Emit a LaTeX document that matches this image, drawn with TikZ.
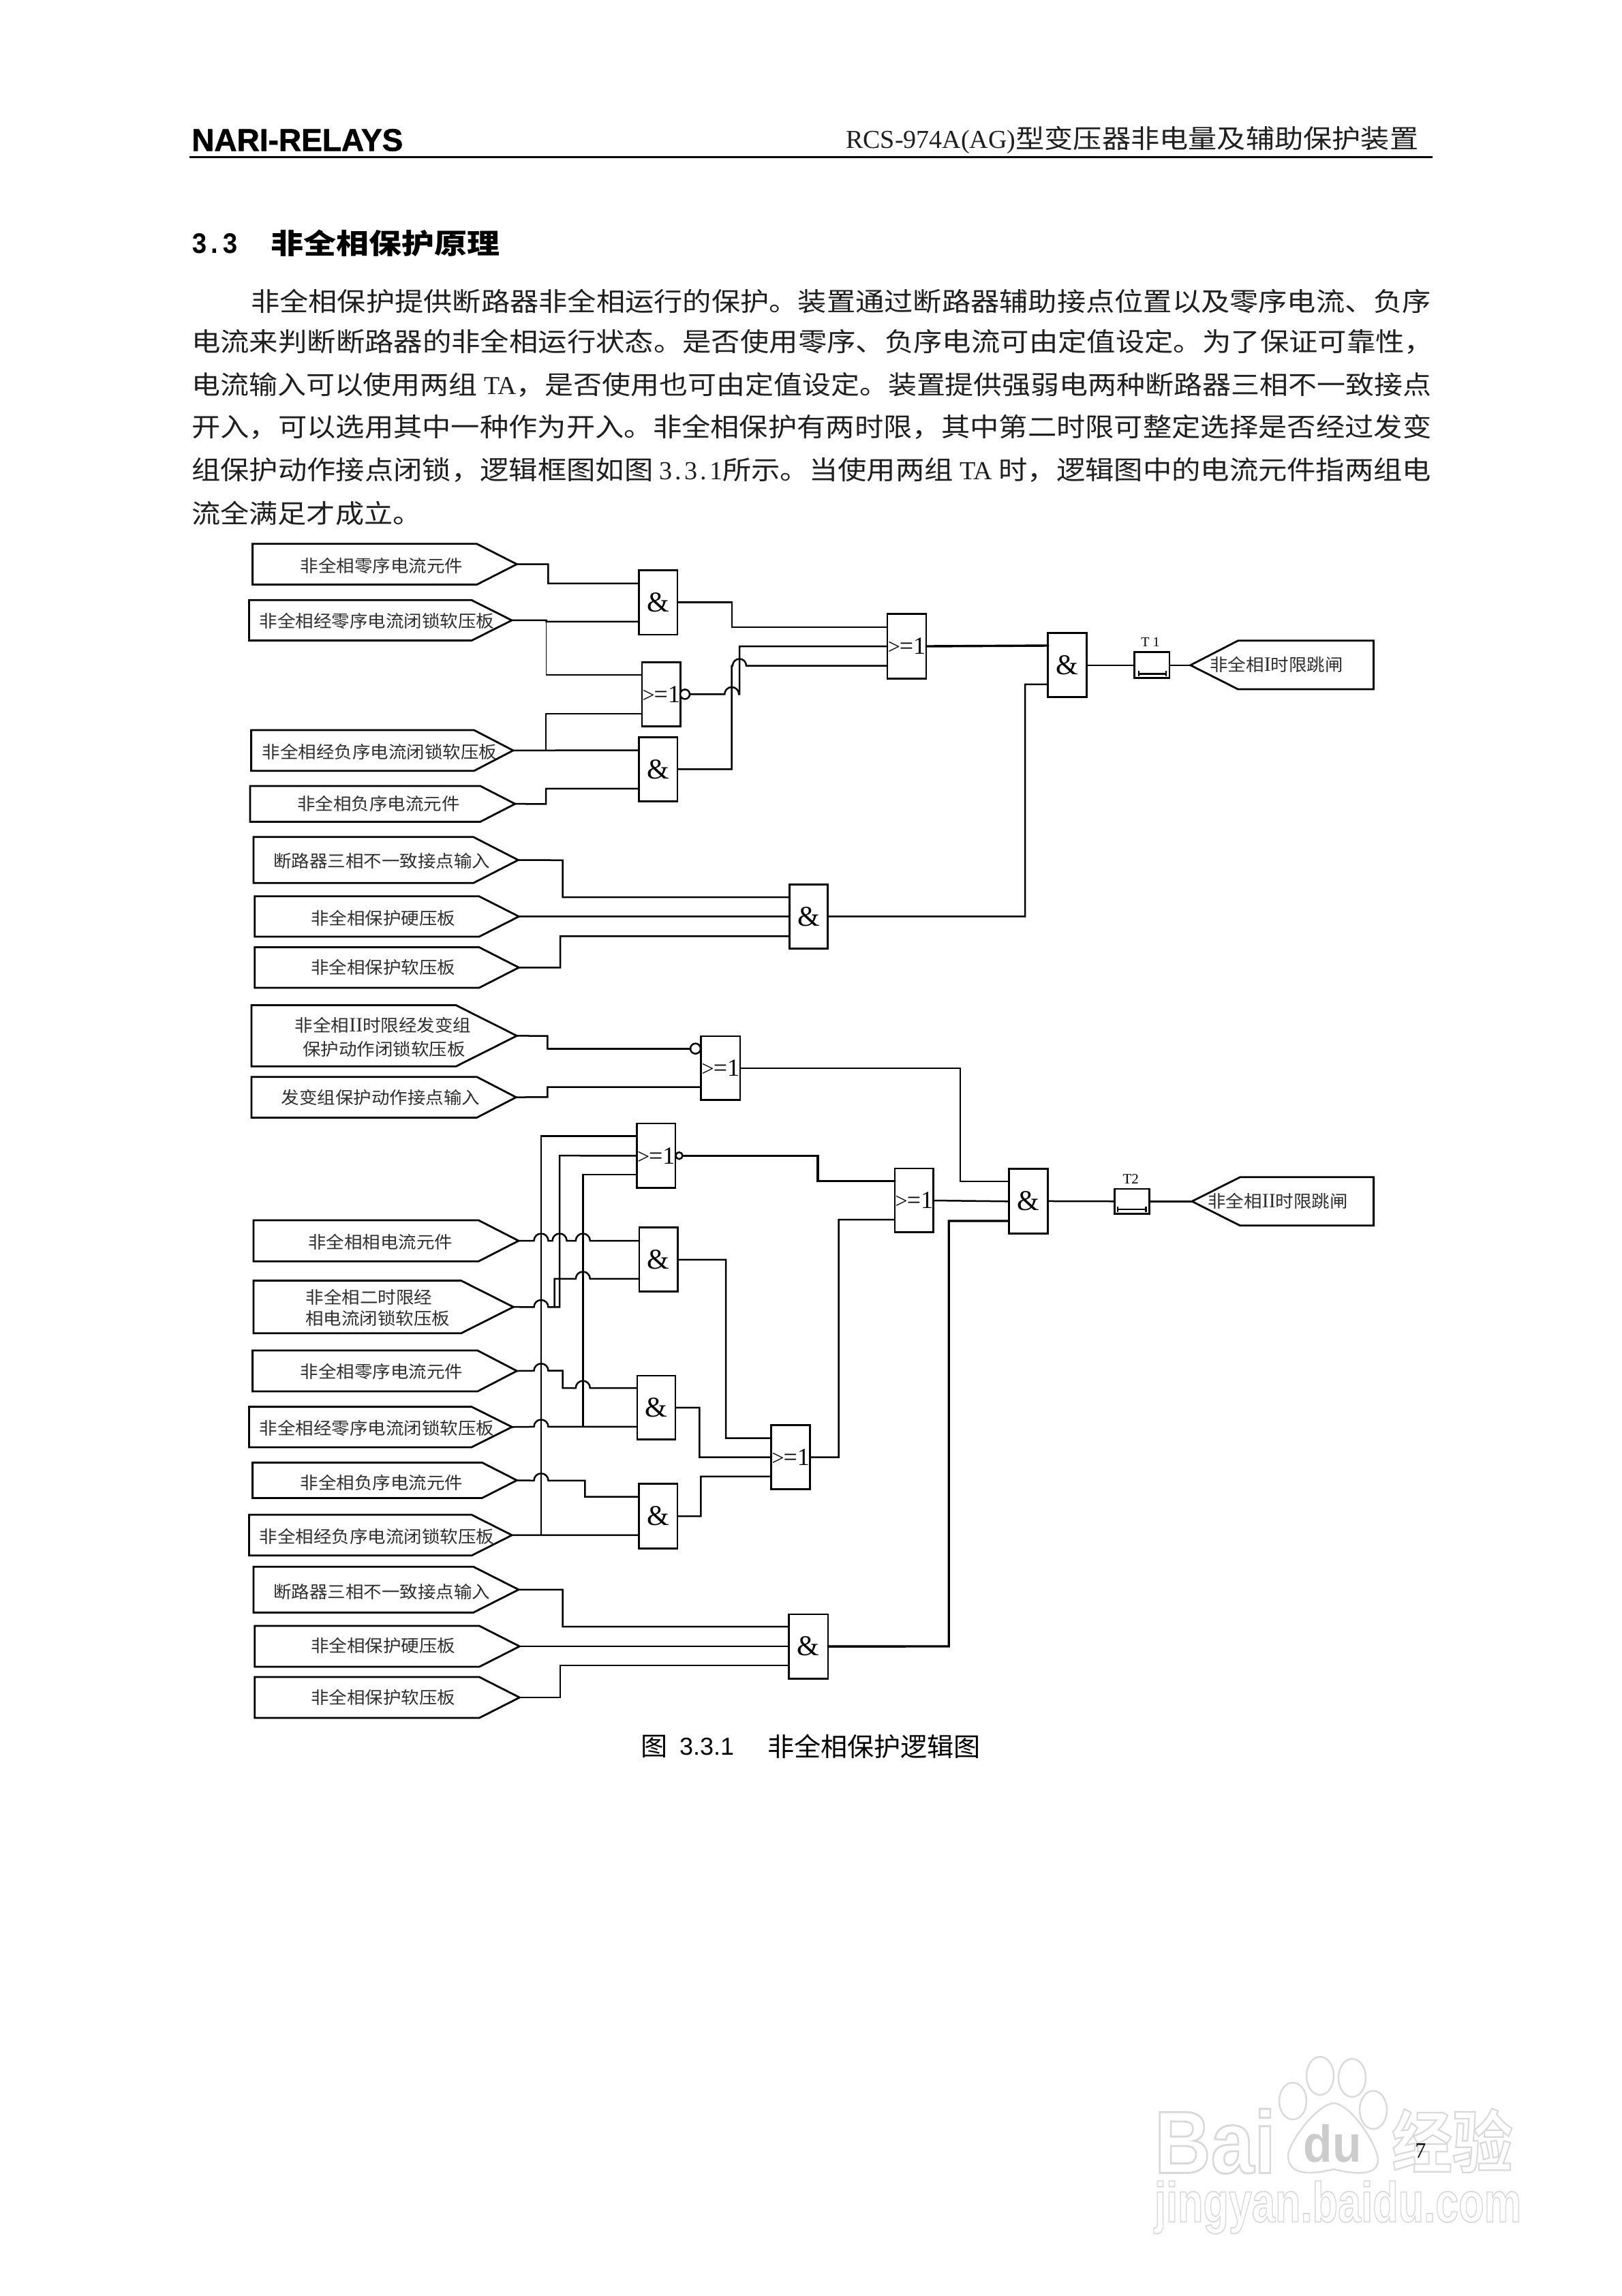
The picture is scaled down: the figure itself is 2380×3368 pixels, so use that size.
\documentclass[tikz,border=0pt]{standalone}
\usepackage{fontspec}
\setmainfont{Liberation Serif}
\setmonofont{Liberation Mono}
\setsansfont{Liberation Sans}
\newfontfamily\cjklab[FakeStretch=1.06]{Noto Sans CJK SC}
\newfontfamily\cjkbody[FakeStretch=1.11]{Noto Sans CJK SC}
\newfontfamily\cjkhead[FakeStretch=1.17]{Noto Sans CJK SC}
\newfontfamily\cjkcap[FakeStretch=1.03]{Noto Sans CJK SC}
\newfontfamily\narif[FakeBold=1.2]{Liberation Sans Bold}
\newfontfamily\wmfont[FakeBold=2.2]{Liberation Sans Bold}
\newfontfamily\wmcjk[FakeBold=2.2]{Noto Sans CJK SC Bold}
\newcommand\labf{\color{black!82}\cjklab\fontsize{25}{25}\selectfont}
\newcommand\bodyf{\color{black!88}\cjkbody\fontsize{38}{38}\selectfont}
\newcommand\ltn[1]{{\rmfamily #1}}
\newcommand\ltl[1]{{\rmfamily\fontsize{30}{30}\selectfont #1}}
\newcommand\orsign{{\fontsize{32}{32}\selectfont >}\kern-1pt{\fontsize{36}{36}\selectfont =1}}
\tikzset{
  w/.style={line width=2.5pt,line cap=round,line join=miter,black},
  wt/.style={line width=3.4pt,line cap=round,black},
  thinw/.style={line width=1.5pt,black},
  boxl/.style={line width=2.8pt,line join=miter,black},
  gatebox/.style={draw,line width=2.8pt,rectangle,inner sep=0pt,outer sep=0pt,fill=white,
    font=\rmfamily\fontsize{42}{42}\selectfont},
  orbox/.style={gatebox,font=\rmfamily\fontsize{36}{36}\selectfont},
  timer/.style={draw,line width=2.8pt,rectangle,inner sep=0pt,outer sep=0pt,fill=white},
  bub/.style={draw,line width=2.5pt,circle,inner sep=0pt,outer sep=0pt,fill=white},
  lab/.style={inner sep=0pt,font=\labf},
  txt/.style={anchor=west,inner sep=0pt},
  wmtxt/.style={inner sep=0pt},
}
\newcommand\inbox[9]{%
  \draw[boxl] (#2,#5) -- (#3,#5) -- (#4,{(#5+#6)/2}) -- (#3,#6) -- (#2,#6) -- cycle;
  \coordinate (#1) at (#4,{(#5+#6)/2});
  \node[lab] (#1t) at (#7,#8) {#9};}
\newcommand\lgate[7][gatebox]{%
  \node[#1,minimum width=#4-#3,minimum height=#6-#5] (#2) at ({(#3+#4)/2},{(#5+#6)/2}) {#7};}
\newcommand\hp[2]{-- ({#1-10.5},#2) arc[start angle=180,end angle=360,radius=10.5]}
% outlined watermark letters: white fill, light grey stroke
\newcommand\wmpaint[1]{\color{white}\special{pdf:code 0.85 G}#1\special{pdf:code 0 G}}
\begin{document}
\begin{tikzpicture}[x=1pt,y=-1pt]
\useasboundingbox (0,0) rectangle (2380,3368);
\fill[white] (0,0) rectangle (2380,3368);

% watermark
\node[wmtxt] (wmB) at (1783,3141) {\resizebox{178pt}{94pt}{\wmpaint{\wmfont Bai}}};
\node[wmtxt] (wmJ) at (1963,3238) {\resizebox{538pt}{60pt}{\wmpaint{\wmfont jingyan.baidu.com}}};
\node[wmtxt] (wmC) at (2131,3140) {\resizebox{178pt}{86pt}{\wmpaint{\wmcjk 经验}}};
\begin{scope}[draw=black!14,line width=2.5pt,fill=white]
  \filldraw (1897,3082) ellipse[x radius=20,y radius=27];
  \filldraw (1937,3045) ellipse[x radius=20,y radius=28];
  \filldraw (1984,3048) ellipse[x radius=20,y radius=28];
  \filldraw (2015,3095) ellipse[x radius=20,y radius=28];
  \filldraw (1957,3085) .. controls (1985,3088) and (2022,3150) .. (2022,3168)
     .. controls (2022,3192) and (1990,3190) .. (1957,3182)
     .. controls (1925,3190) and (1890,3192) .. (1890,3162)
     .. controls (1890,3145) and (1930,3088) .. (1957,3085) -- cycle;
\end{scope}
\node[inner sep=0pt,text=black!20] (wmD) at (1955,3144) {\resizebox{85pt}{55pt}{\sffamily\bfseries du}};

% header
\node[txt] (hl) at (281,205.5) {\narif\fontsize{46}{46}\selectfont NARI-RELAYS};
\node[txt] (hr) at (1241,205.7) {\resizebox{840pt}{!}{\color{black!88}\cjkbody\fontsize{38}{38}\selectfont\ltn{RCS-974A(AG)}型变压器非电量及辅助保护装置}};
\draw[line width=3pt] (278,230.2) -- (2102,230.2);

% heading
\node[txt] (h3) at (281,357) {\resizebox{68pt}{29pt}{\ttfamily\bfseries 3.3}};
\node[txt] (h4) at (397,357) {\cjkhead\bfseries\fontsize{41}{41}\selectfont 非全相保护原理};

% body
\node[txt] (b1l) at (368,441.6) {\resizebox{1732pt}{!}{\bodyf 非全相保护提供断路器非全相运行的保护。装置通过断路器辅助接点位置以及零序电流、负序}};
\node[txt] (b2l) at (281,501.6) {\resizebox{1822pt}{!}{\bodyf 电流来判断断路器的非全相运行状态。是否使用零序、负序电流可由定值设定。为了保证可靠性，}};
\node[txt] (b3l) at (281,565) {\resizebox{1819pt}{!}{\bodyf 电流输入可以使用两组 \ltn{TA}，是否使用也可由定值设定。装置提供强弱电两种断路器三相不一致接点}};
\node[txt] (b4l) at (281,626) {\resizebox{1819pt}{!}{\bodyf 开入，可以选用其中一种作为开入。非全相保护有两时限，其中第二时限可整定选择是否经过发变}};
\node[txt] (b5l) at (281,689.4) {\resizebox{1819pt}{!}{\bodyf 组保护动作接点闭锁，逻辑框图如图 {\rmfamily 3\kern4pt.\kern4pt3\kern4pt.\kern4pt1}所示。当使用两组 \ltn{TA} 时，逻辑图中的电流元件指两组电}};
\node[txt] (b6l) at (281,753) {\bodyf 流全满足才成立。};

% inputs upper
\inbox{ia}{370.6}{699.7}{758.4}{797.8}{857.5}{560}{830}{非全相零序电流元件}
\inbox{ib}{365.5}{692}{751}{880.3}{939.6}{553}{910.6}{非全相经零序电流闭锁软压板}
\inbox{ic}{368.6}{695.6}{753}{1071}{1130.7}{556.8}{1102.5}{非全相经负序电流闭锁软压板}
\inbox{id}{367}{704.8}{755.8}{1153}{1205.4}{555.3}{1179.3}{非全相负序电流元件}
\inbox{ie}{372}{694.6}{760.4}{1227.8}{1295.3}{560}{1263}{断路器三相不一致接点输入}
\inbox{if}{373.7}{703}{761.4}{1314.8}{1374}{562.4}{1346.7}{非全相保护硬压板}
\inbox{ig}{373.7}{703}{761.4}{1389.5}{1449}{562.4}{1418.5}{非全相保护软压板}
% inputs lower
\inbox{ih}{369}{669}{758.4}{1474.5}{1564.3}{562}{1503.4}{非全相\ltl{II}时限经发变组}
\node[lab] (iht) at (563.5,1539) {保护动作闭锁软压板};
\inbox{ii}{369}{699.7}{757.3}{1579.7}{1639.4}{558.4}{1610}{发变组保护动作接点输入}
\inbox{ij}{372}{702.2}{761}{1790}{1850.2}{558.4}{1821.7}{非全相相电流元件}
\inbox{ik}{372}{676.7}{753.3}{1878.6}{1955.7}{541.5}{1902.7}{非全相二时限经}
\node[lab] (ikt) at (554.3,1934.4) {相电流闭锁软压板};
\inbox{il}{370.6}{700.7}{758.4}{1981}{2041}{560}{2011.5}{非全相零序电流元件}
\inbox{im}{365.5}{692}{751.2}{2063.6}{2122.9}{553}{2094.6}{非全相经零序电流闭锁软压板}
\inbox{in}{370.6}{707.3}{758.4}{2145.4}{2197.5}{560}{2174.6}{非全相负序电流元件}
\inbox{io}{365.5}{692}{751.2}{2222}{2281.8}{553}{2254}{非全相经负序电流闭锁软压板}
\inbox{ip}{372}{694.6}{761}{2298.2}{2365.4}{560}{2334.6}{断路器三相不一致接点输入}
\inbox{iq}{373.7}{703.3}{762.4}{2385}{2445}{562.4}{2414}{非全相保护硬压板}
\inbox{ir}{373.7}{703.3}{762.4}{2460}{2520}{562.4}{2490}{非全相保护软压板}

% gates
\lgate{a1}{937.5}{994}{836.4}{931}{\&}
\lgate[orbox]{o1}{942}{998.7}{971.5}{1065.2}{\orsign}
\lgate{a2}{937.5}{994}{1081.4}{1175.5}{\raisebox{-6pt}{\&}}
\lgate[orbox]{o2}{1302}{1359}{900.6}{995.5}{\orsign}
\lgate{a3}{1537.8}{1594.2}{928.7}{1022.8}{\&}
\lgate{a4}{1158.2}{1214.5}{1297.2}{1391.3}{\&}
\lgate[timer]{t1}{1664.6}{1716}{956.8}{994.7}{}
\lgate[orbox]{o3}{1028.8}{1086}{1520}{1613.7}{\orsign}
\lgate[orbox]{o4}{934.4}{991}{1648}{1742.6}{\orsign}
\lgate{a5}{938}{994.6}{1800.7}{1894.8}{\&}
\lgate{a6}{934.9}{991}{2017.9}{2111.8}{\&}
\lgate{a7}{937.5}{994}{2176.8}{2271.4}{\raisebox{-6pt}{\&}}
\lgate[orbox]{o5}{1131.8}{1188.6}{2090.5}{2184.8}{\orsign}
\lgate[orbox]{o6}{1313}{1369.8}{1713.9}{1807.6}{\orsign}
\lgate{a8}{1480.7}{1537.5}{1714.5}{1809.4}{\&}
\lgate{a9}{1157.5}{1215}{2367.9}{2462.2}{\&}
\lgate[timer]{t2}{1635.6}{1686.3}{1743.9}{1780.6}{}
% bubbles
\node[bub,minimum size=14pt] (n1) at (1005,1018.4) {};
\node[bub,minimum size=15pt] (n2) at (1020.5,1538.2) {};
\node[bub,minimum size=10pt] (n3) at (996.5,1695.2) {};
% timers
\draw[line width=2.2pt] (1670.7,988.4) -- (1711,988.4) (1670.7,984.4) -- (1670.7,992.4) (1711,984.4) -- (1711,992.4);
\draw[line width=2.2pt] (1640,1773.9) -- (1681.5,1773.9) (1640,1770) -- (1640,1778) (1681.5,1770) -- (1681.5,1778);
\node[inner sep=0pt,font=\rmfamily\fontsize{20}{20}\selectfont] (t1t) at (1688,941.7) {T 1};
\node[inner sep=0pt,font=\rmfamily\fontsize{21}{21}\selectfont] (t2t) at (1659.2,1729.8) {T2};
% outputs
\draw[boxl] (1746.7,975.75) -- (1816.5,939.8) -- (2015.5,939.8) -- (2015.5,1011) -- (1816.5,1011) -- cycle;
\coordinate (oa) at (1746.7,975.75);
\node[lab] (oat) at (1873,974.6) {非全相\ltl{I}时限跳闸};
\draw[boxl] (1749,1762.25) -- (1819.5,1726.8) -- (2015.6,1726.8) -- (2015.6,1797.8) -- (1819.5,1797.8) -- cycle;
\coordinate (ob) at (1749,1762.25);
\node[lab] (obt) at (1875,1762.3) {非全相\ltl{II}时限跳闸};

% upper wires
\draw[w] (ia) -- (804.3,827.7) -- (804.3,855.9) -- (a1.west |- 0,855.9);
\draw[w] (ib) -- (801.7,909.8) -- (801.7,911.8) -- (a1.west |- 0,911.8);
\draw[thinw] (801.7,911) -- (801.7,990.2) -- (o1.west |- 0,990.2);
\draw[w] (ic) -- (a2.west |- 0,1100.5);
\draw[w] (801.2,1100.5) -- (801.2,1047) -- (o1.west |- 0,1047);
\draw[w] (id) -- (801.2,1179.3) -- (801.2,1156.9) -- (a2.west |- 0,1156.9);
\draw[w] (a1.east |- 0,883.6) -- (1074,883.6) -- (1074,920) -- (o2.west |- 0,920);
\draw[w] (a2.east |- 0,1128.3) -- (1073.7,1128.3) -- (1073.7,976.5) -- (1075,976.5) arc[start angle=180,end angle=360,radius=10] -- (1095.7,976.5) -- (o2.west |- 0,976.5);
\draw[w] (n1.east) \hp{1073.7}{1018.4} -- (1085,1018.4) -- (1085,948) -- (o2.west |- 0,948);
\draw[wt] (o2.east |- 0,948) -- (a3.west |- 0,947);
\draw[w] (a4.east) -- (1504,1344.3) -- (1504,1003.8) -- (a3.west |- 0,1003.8);
\draw[w] (a3.east) -- (t1.west);
\draw[w] (t1.east) -- (oa);
\draw[w] (ie) -- (825.7,1261.8) -- (825.7,1316) -- (a4.west |- 0,1316);
\draw[w] (if) -- (a4.west);
\draw[w] (ig) -- (822,1419.3) -- (822,1373.3) -- (a4.west |- 0,1373.3);

% lower wires
\draw[w] (ih) -- (803.3,1519.6) -- (803.3,1538.2);
\draw[wt] (803.3,1538.2) -- (n2.west);
\draw[w] (ii) -- (803.3,1609.3) -- (803.3,1594.7) -- (o3.west |- 0,1594.7);
\draw[w] (o3.east |- 0,1567) -- (1409,1567) -- (1409,1732.9) -- (a8.west |- 0,1732.9);
\draw[w] (794,2251.8) -- (794,1666.7) -- (o4.west |- 0,1666.7);
\draw[w] (821.1,1917.4) -- (821.1,1695.2) -- (o4.west);
\draw[w] (855.3,2092.9) -- (855.3,1722.8) -- (o4.west |- 0,1722.8);
\draw[wt] (n3.east) -- (1200,1695.2) -- (1200,1732.3) -- (o6.west |- 0,1732.3);
\draw[w] (ij) \hp{794}{1820} \hp{821.1}{1820} \hp{855.3}{1820} -- (a5.west |- 0,1820);
\draw[w] (ik) \hp{794}{1917.4} -- (821.1,1917.4);
\draw[w] (813.5,1917.4) -- (813.5,1875.9) \hp{855.3}{1875.9} -- (a5.west |- 0,1875.9);
\draw[w] (a5.east) -- (1065,1847.8) -- (1065,2109.5) -- (o5.west |- 0,2109.5);
\draw[w] (il) \hp{794}{2010.7} -- (825.7,2010.7) -- (825.7,2036) \hp{855.3}{2036} -- (a6.west |- 0,2036);
\draw[w] (im) \hp{794}{2092.9} -- (a6.west |- 0,2092.9);
\draw[w] (a6.east) -- (1026.3,2064.9) -- (1026.3,2137.7) -- (o5.west);
\draw[w] (in) \hp{794}{2171.8} -- (858.4,2171.8) -- (858.4,2195.7) -- (a7.west |- 0,2195.7);
\draw[w] (io) -- (a7.west |- 0,2251.8);
\draw[w] (a7.east) -- (1028.4,2224.1) -- (1028.4,2165.8) -- (o5.west |- 0,2165.8);
\draw[w] (o5.east) -- (1230.6,2137.7) -- (1230.6,1789.2) -- (o6.west |- 0,1789.2);
\draw[w] (o6.east |- 0,1761) -- (a8.west |- 0,1762.3);
\draw[w] (a8.east) -- (t2.west);
\draw[w] (t2.east) -- (ob);
\draw[w] (ip) -- (825.7,2331.8) -- (825.7,2386) -- (a9.west |- 0,2386);
\draw[w] (iq) -- (a9.west |- 0,2415);
\draw[w] (ir) -- (822.1,2490) -- (822.1,2443) -- (a9.west |- 0,2443);
\draw[wt] (a9.east) -- (1392.2,2415) -- (1392.2,1791) -- (a8.west |- 0,1791);

% caption
\node[txt] (cap1) at (940,2562) {\cjkcap\fontsize{38}{38}\selectfont 图};
\node[txt] (cap2) at (996.8,2562) {\sffamily\fontsize{36}{36}\selectfont 3.3.1};
\node[txt] (cap3) at (1125.8,2562) {\cjkcap\fontsize{38}{38}\selectfont 非全相保护逻辑图};
% page number
\node[inner sep=0pt,font=\rmfamily\fontsize{32}{32}\selectfont] (pg) at (2084.4,3155) {7};
\end{tikzpicture}
\end{document}
